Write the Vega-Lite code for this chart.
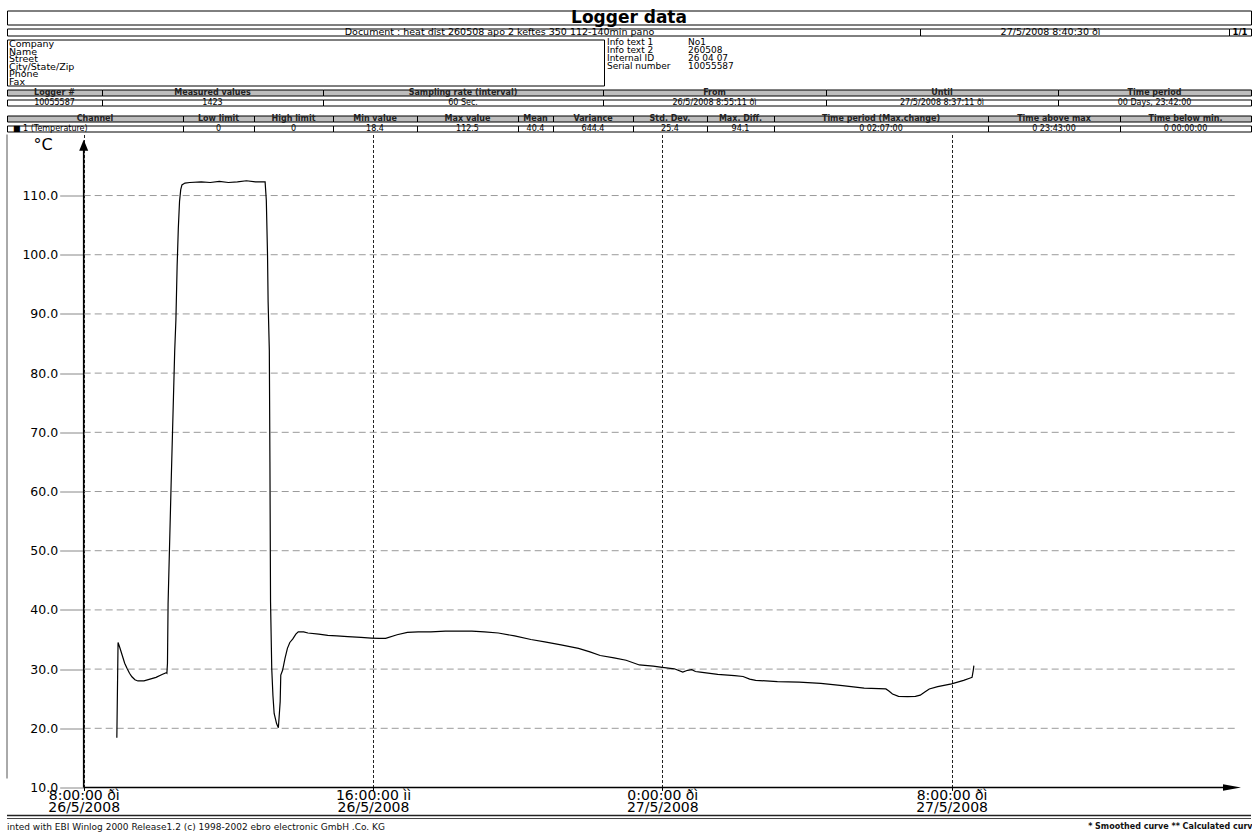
{
  "$schema": "https://vega.github.io/schema/vega-lite/v6.json",
  "background": "white",
  "padding": {"left": 6, "top": 7.5, "right": 2, "bottom": 0},
  "config": {
    "font": "DejaVu Sans",
    "text": {"font": "DejaVu Sans", "color": "black"},
    "axis": {"labelFont": "DejaVu Sans", "titleFont": "DejaVu Sans"},
    "view": {"stroke": "black", "strokeWidth": 1},
    "concat": {"spacing": 0}
  },
  "spacing": 0,
  "vconcat": [
    {
      "width": 1244, "height": 14, "view": {"stroke": "black"},
      "data": {"values": [{"t": "Logger data"}]},
      "mark": {"type": "text", "fontSize": 17, "fontWeight": "bold"},
      "encoding": {"text": {"field": "t"}}
    },
    {
      "spacing": 0, "bounds": "flush",
      "hconcat": [
        {"width": 913, "height": 7, "view": {"stroke": "black"}, "data": {"values": [{"t": "Document : heat dist 260508 apo 2 keftes 350 112-140min pano"}]}, "mark": {"type": "text", "fontSize": 9.5, "dx": 36}, "encoding": {"text": {"field": "t"}}},
        {"width": 309, "height": 7, "view": {"stroke": "black"}, "data": {"values": [{"t": "27/5/2008 8:40:30 ðì"}]}, "mark": {"type": "text", "fontSize": 9.5, "dx": -24}, "encoding": {"text": {"field": "t"}}},
        {"width": 22, "height": 7, "view": {"stroke": "black"}, "data": {"values": [{"t": "1/1"}]}, "mark": {"type": "text", "fontSize": 8.5, "fontWeight": "bold"}, "encoding": {"text": {"field": "t"}}}
      ]
    },
    {
      "spacing": 0, "bounds": "flush",
      "hconcat": [
        {
          "width": 597, "height": 46, "view": {"stroke": "black"},
          "data": {"values": [{"c": "a", "r": 1, "t": "Company"}, {"c": "a", "r": 2, "t": "Name"}, {"c": "a", "r": 3, "t": "Street"}, {"c": "a", "r": 4, "t": "City/State/Zip"}, {"c": "a", "r": 5, "t": "Phone"}, {"c": "a", "r": 6, "t": "Fax"}]},
          "mark": {"type": "text", "align": "left", "fontSize": 9.5, "dx": 2},
          "encoding": {
            "x": {"field": "c", "type": "nominal", "axis": null, "scale": {"type": "point", "padding": 0, "align": 0}},
            "y": {"field": "r", "type": "ordinal", "axis": null, "scale": {"type": "point", "padding": 0.575, "align": 0.581}},
            "text": {"field": "t"}
          }
        },
        {
          "width": 81, "height": 46, "view": {"stroke": null},
          "data": {"values": [{"c": "a", "r": 1, "t": "Info text 1"}, {"c": "a", "r": 2, "t": "Info text 2"}, {"c": "a", "r": 3, "t": "Internal ID"}, {"c": "a", "r": 4, "t": "Serial number"}]},
          "mark": {"type": "text", "align": "left", "fontSize": 9, "dx": 3},
          "encoding": {
            "x": {"field": "c", "type": "nominal", "axis": null, "scale": {"type": "point", "padding": 0, "align": 0}},
            "y": {"field": "r", "type": "ordinal", "axis": null, "scale": {"type": "point", "domain": [1, 2, 3, 4, 5, 6], "padding": 0.487, "align": 0.4}},
            "text": {"field": "t"}
          }
        },
        {
          "width": 566, "height": 46, "view": {"stroke": null},
          "data": {"values": [{"c": "a", "r": 1, "t": "No1"}, {"c": "a", "r": 2, "t": "260508"}, {"c": "a", "r": 3, "t": "26 04 07"}, {"c": "a", "r": 4, "t": "10055587"}]},
          "mark": {"type": "text", "align": "left", "fontSize": 9, "dx": 3},
          "encoding": {
            "x": {"field": "c", "type": "nominal", "axis": null, "scale": {"type": "point", "padding": 0, "align": 0}},
            "y": {"field": "r", "type": "ordinal", "axis": null, "scale": {"type": "point", "domain": [1, 2, 3, 4, 5, 6], "padding": 0.487, "align": 0.4}},
            "text": {"field": "t"}
          }
        }
      ]
    },
    {
      "spacing": 0, "bounds": "flush",
      "hconcat": [
        {"width": 95, "height": 6, "view": {"fill": "#bdbdbd", "stroke": "black"}, "data": {"values": [{"t": "Logger #"}]}, "mark": {"type": "text", "fontSize": 8, "fontWeight": "bold", "color": "#222"}, "encoding": {"text": {"field": "t"}}},
        {"width": 221, "height": 6, "view": {"fill": "#bdbdbd", "stroke": "black"}, "data": {"values": [{"t": "Measured values"}]}, "mark": {"type": "text", "fontSize": 8, "fontWeight": "bold", "color": "#222"}, "encoding": {"text": {"field": "t"}}},
        {"width": 280, "height": 6, "view": {"fill": "#bdbdbd", "stroke": "black"}, "data": {"values": [{"t": "Sampling rate (interval)"}]}, "mark": {"type": "text", "fontSize": 8, "fontWeight": "bold", "color": "#222"}, "encoding": {"text": {"field": "t"}}},
        {"width": 223, "height": 6, "view": {"fill": "#bdbdbd", "stroke": "black"}, "data": {"values": [{"t": "From"}]}, "mark": {"type": "text", "fontSize": 8, "fontWeight": "bold", "color": "#222"}, "encoding": {"text": {"field": "t"}}},
        {"width": 232, "height": 6, "view": {"fill": "#bdbdbd", "stroke": "black"}, "data": {"values": [{"t": "Until"}]}, "mark": {"type": "text", "fontSize": 8, "fontWeight": "bold", "color": "#222"}, "encoding": {"text": {"field": "t"}}},
        {"width": 193, "height": 6, "view": {"fill": "#bdbdbd", "stroke": "black"}, "data": {"values": [{"t": "Time period"}]}, "mark": {"type": "text", "fontSize": 8, "fontWeight": "bold", "color": "#222"}, "encoding": {"text": {"field": "t"}}}
      ]
    },
    {
      "spacing": 0, "bounds": "flush",
      "hconcat": [
        {"width": 95, "height": 6, "view": {"stroke": "black"}, "data": {"values": [{"t": "10055587"}]}, "mark": {"type": "text", "fontSize": 8}, "encoding": {"text": {"field": "t"}}},
        {"width": 221, "height": 6, "view": {"stroke": "black"}, "data": {"values": [{"t": "1423"}]}, "mark": {"type": "text", "fontSize": 8}, "encoding": {"text": {"field": "t"}}},
        {"width": 280, "height": 6, "view": {"stroke": "black"}, "data": {"values": [{"t": "60 Sec."}]}, "mark": {"type": "text", "fontSize": 8}, "encoding": {"text": {"field": "t"}}},
        {"width": 223, "height": 6, "view": {"stroke": "black"}, "data": {"values": [{"t": "26/5/2008 8:55:11 ðì"}]}, "mark": {"type": "text", "fontSize": 8}, "encoding": {"text": {"field": "t"}}},
        {"width": 232, "height": 6, "view": {"stroke": "black"}, "data": {"values": [{"t": "27/5/2008 8:37:11 ðì"}]}, "mark": {"type": "text", "fontSize": 8}, "encoding": {"text": {"field": "t"}}},
        {"width": 193, "height": 6, "view": {"stroke": "black"}, "data": {"values": [{"t": "00 Days, 23:42:00"}]}, "mark": {"type": "text", "fontSize": 8}, "encoding": {"text": {"field": "t"}}}
      ]
    },
    {
      "width": 1244, "height": 6, "view": {"stroke": null},
      "data": {"values": [{"t": ""}]},
      "mark": {"type": "text", "fontSize": 1},
      "encoding": {"text": {"field": "t"}}
    },
    {
      "spacing": 0, "bounds": "flush",
      "hconcat": [
        {"width": 176, "height": 6, "view": {"fill": "#bdbdbd", "stroke": "black"}, "data": {"values": [{"t": "Channel"}]}, "mark": {"type": "text", "fontSize": 8, "fontWeight": "bold", "color": "#222"}, "encoding": {"text": {"field": "t"}}},
        {"width": 71, "height": 6, "view": {"fill": "#bdbdbd", "stroke": "black"}, "data": {"values": [{"t": "Low limit"}]}, "mark": {"type": "text", "fontSize": 8, "fontWeight": "bold", "color": "#222"}, "encoding": {"text": {"field": "t"}}},
        {"width": 79, "height": 6, "view": {"fill": "#bdbdbd", "stroke": "black"}, "data": {"values": [{"t": "High limit"}]}, "mark": {"type": "text", "fontSize": 8, "fontWeight": "bold", "color": "#222"}, "encoding": {"text": {"field": "t"}}},
        {"width": 84, "height": 6, "view": {"fill": "#bdbdbd", "stroke": "black"}, "data": {"values": [{"t": "Min value"}]}, "mark": {"type": "text", "fontSize": 8, "fontWeight": "bold", "color": "#222"}, "encoding": {"text": {"field": "t"}}},
        {"width": 101, "height": 6, "view": {"fill": "#bdbdbd", "stroke": "black"}, "data": {"values": [{"t": "Max value"}]}, "mark": {"type": "text", "fontSize": 8, "fontWeight": "bold", "color": "#222"}, "encoding": {"text": {"field": "t"}}},
        {"width": 35, "height": 6, "view": {"fill": "#bdbdbd", "stroke": "black"}, "data": {"values": [{"t": "Mean"}]}, "mark": {"type": "text", "fontSize": 8, "fontWeight": "bold", "color": "#222"}, "encoding": {"text": {"field": "t"}}},
        {"width": 80, "height": 6, "view": {"fill": "#bdbdbd", "stroke": "black"}, "data": {"values": [{"t": "Variance"}]}, "mark": {"type": "text", "fontSize": 8, "fontWeight": "bold", "color": "#222"}, "encoding": {"text": {"field": "t"}}},
        {"width": 74, "height": 6, "view": {"fill": "#bdbdbd", "stroke": "black"}, "data": {"values": [{"t": "Std. Dev."}]}, "mark": {"type": "text", "fontSize": 8, "fontWeight": "bold", "color": "#222"}, "encoding": {"text": {"field": "t"}}},
        {"width": 67, "height": 6, "view": {"fill": "#bdbdbd", "stroke": "black"}, "data": {"values": [{"t": "Max. Diff."}]}, "mark": {"type": "text", "fontSize": 8, "fontWeight": "bold", "color": "#222"}, "encoding": {"text": {"field": "t"}}},
        {"width": 214, "height": 6, "view": {"fill": "#bdbdbd", "stroke": "black"}, "data": {"values": [{"t": "Time period (Max.change)"}]}, "mark": {"type": "text", "fontSize": 8, "fontWeight": "bold", "color": "#222"}, "encoding": {"text": {"field": "t"}}},
        {"width": 132, "height": 6, "view": {"fill": "#bdbdbd", "stroke": "black"}, "data": {"values": [{"t": "Time above max"}]}, "mark": {"type": "text", "fontSize": 8, "fontWeight": "bold", "color": "#222"}, "encoding": {"text": {"field": "t"}}},
        {"width": 131, "height": 6, "view": {"fill": "#bdbdbd", "stroke": "black"}, "data": {"values": [{"t": "Time below min."}]}, "mark": {"type": "text", "fontSize": 8, "fontWeight": "bold", "color": "#222"}, "encoding": {"text": {"field": "t"}}}
      ]
    },
    {
      "spacing": 0, "bounds": "flush",
      "hconcat": [
        {"width": 176, "height": 6, "view": {"stroke": "black"}, "data": {"values": [{"c": "a", "t": "■   1 (Temperature)"}]}, "mark": {"type": "text", "fontSize": 8, "align": "left", "dx": 6}, "encoding": {"x": {"field": "c", "type": "nominal", "axis": null, "scale": {"type": "point", "padding": 0, "align": 0}}, "text": {"field": "t"}}},
        {"width": 71, "height": 6, "view": {"stroke": "black"}, "data": {"values": [{"t": "0"}]}, "mark": {"type": "text", "fontSize": 8}, "encoding": {"text": {"field": "t"}}},
        {"width": 79, "height": 6, "view": {"stroke": "black"}, "data": {"values": [{"t": "0"}]}, "mark": {"type": "text", "fontSize": 8}, "encoding": {"text": {"field": "t"}}},
        {"width": 84, "height": 6, "view": {"stroke": "black"}, "data": {"values": [{"t": "18.4"}]}, "mark": {"type": "text", "fontSize": 8}, "encoding": {"text": {"field": "t"}}},
        {"width": 101, "height": 6, "view": {"stroke": "black"}, "data": {"values": [{"t": "112.5"}]}, "mark": {"type": "text", "fontSize": 8}, "encoding": {"text": {"field": "t"}}},
        {"width": 35, "height": 6, "view": {"stroke": "black"}, "data": {"values": [{"t": "40.4"}]}, "mark": {"type": "text", "fontSize": 8}, "encoding": {"text": {"field": "t"}}},
        {"width": 80, "height": 6, "view": {"stroke": "black"}, "data": {"values": [{"t": "644.4"}]}, "mark": {"type": "text", "fontSize": 8}, "encoding": {"text": {"field": "t"}}},
        {"width": 74, "height": 6, "view": {"stroke": "black"}, "data": {"values": [{"t": "25.4"}]}, "mark": {"type": "text", "fontSize": 8}, "encoding": {"text": {"field": "t"}}},
        {"width": 67, "height": 6, "view": {"stroke": "black"}, "data": {"values": [{"t": "94.1"}]}, "mark": {"type": "text", "fontSize": 8}, "encoding": {"text": {"field": "t"}}},
        {"width": 214, "height": 6, "view": {"stroke": "black"}, "data": {"values": [{"t": "0 02:07:00"}]}, "mark": {"type": "text", "fontSize": 8}, "encoding": {"text": {"field": "t"}}},
        {"width": 132, "height": 6, "view": {"stroke": "black"}, "data": {"values": [{"t": "0 23:43:00"}]}, "mark": {"type": "text", "fontSize": 8}, "encoding": {"text": {"field": "t"}}},
        {"width": 131, "height": 6, "view": {"stroke": "black"}, "data": {"values": [{"t": "0 00:00:00"}]}, "mark": {"type": "text", "fontSize": 8}, "encoding": {"text": {"field": "t"}}}
      ]
    },
    {
      "width": 1244, "height": 653,
      "view": {"stroke": null},
      "layer": [
        {
          "data": {"values": [{"g": 20}, {"g": 30}, {"g": 40}, {"g": 50}, {"g": 60}, {"g": 70}, {"g": 80}, {"g": 90}, {"g": 100}, {"g": 110}]},
          "mark": {"type": "rule", "color": "#9a9a9a", "strokeWidth": 1, "strokeDash": [7, 4]},
          "encoding": {
            "x": {"datum": {"year": 2008, "month": 5, "date": 26, "hours": 8}, "type": "temporal"},
            "x2": {"datum": {"year": 2008, "month": 5, "date": 27, "hours": 15, "minutes": 55}},
            "y": {"field": "g", "type": "quantitative"}
          }
        },
        {
          "data": {"values": [{}]},
          "mark": {"type": "rule", "color": "#555", "strokeWidth": 1},
          "encoding": {
            "x": {"datum": {"year": 2008, "month": 5, "date": 26, "hours": 5, "minutes": 52, "seconds": 44}, "type": "temporal"},
            "y": {"datum": 120.31, "type": "quantitative"},
            "y2": {"datum": 11.52}
          }
        },
        {
          "data": {"values": [{}]},
          "mark": {"type": "rule", "color": "black", "strokeWidth": 1.6},
          "encoding": {
            "x": {"datum": {"year": 2008, "month": 5, "date": 26, "hours": 8}, "type": "temporal"},
            "y": {"datum": 10, "type": "quantitative"},
            "y2": {"datum": 118.5}
          }
        },
        {
          "data": {"values": [{}]},
          "mark": {"type": "point", "shape": "M0,-1L0.82,1L-0.82,1Z", "size": 121, "filled": true, "color": "black", "opacity": 1},
          "encoding": {
            "x": {"datum": {"year": 2008, "month": 5, "date": 26, "hours": 8}, "type": "temporal"},
            "y": {"datum": 118.5, "type": "quantitative"}
          }
        },
        {
          "data": {"values": [{}]},
          "mark": {"type": "rule", "color": "black", "strokeWidth": 1.6},
          "encoding": {
            "x": {"datum": {"year": 2008, "month": 5, "date": 26, "hours": 8}, "type": "temporal"},
            "x2": {"datum": {"year": 2008, "month": 5, "date": 27, "hours": 15, "minutes": 45, "seconds": 18}},
            "y": {"datum": 10, "type": "quantitative"}
          }
        },
        {
          "data": {"values": [{}]},
          "mark": {"type": "point", "shape": "M1,0L-1,-0.35L-1,0.35Z", "size": 324, "filled": true, "color": "black", "opacity": 1},
          "encoding": {
            "x": {"datum": {"year": 2008, "month": 5, "date": 27, "hours": 15, "minutes": 45, "seconds": 18}, "type": "temporal"},
            "y": {"datum": 10, "type": "quantitative"}
          }
        },
        {
          "data": {"values": [
            {"t": "2008-05-26T08:55:00", "v": 18.4},
            {"t": "2008-05-26T08:57:00", "v": 34.5},
            {"t": "2008-05-26T09:00:00", "v": 33.6},
            {"t": "2008-05-26T09:04:00", "v": 32.3},
            {"t": "2008-05-26T09:08:00", "v": 31.0},
            {"t": "2008-05-26T09:12:00", "v": 30.1},
            {"t": "2008-05-26T09:16:00", "v": 29.3},
            {"t": "2008-05-26T09:20:00", "v": 28.7},
            {"t": "2008-05-26T09:25:00", "v": 28.2},
            {"t": "2008-05-26T09:30:00", "v": 28.0},
            {"t": "2008-05-26T09:40:00", "v": 28.0},
            {"t": "2008-05-26T09:50:00", "v": 28.3},
            {"t": "2008-05-26T10:00:00", "v": 28.6},
            {"t": "2008-05-26T10:10:00", "v": 29.1},
            {"t": "2008-05-26T10:17:00", "v": 29.4},
            {"t": "2008-05-26T10:18:00", "v": 29.3},
            {"t": "2008-05-26T10:19:00", "v": 31.0},
            {"t": "2008-05-26T10:20:00", "v": 41.0},
            {"t": "2008-05-26T10:25:00", "v": 61.0},
            {"t": "2008-05-26T10:31:00", "v": 83.8},
            {"t": "2008-05-26T10:33:00", "v": 89.0},
            {"t": "2008-05-26T10:35:00", "v": 98.0},
            {"t": "2008-05-26T10:37:00", "v": 104.5},
            {"t": "2008-05-26T10:39:00", "v": 109.0},
            {"t": "2008-05-26T10:41:00", "v": 111.0},
            {"t": "2008-05-26T10:43:00", "v": 111.8},
            {"t": "2008-05-26T10:48:00", "v": 112.1},
            {"t": "2008-05-26T10:56:00", "v": 112.2},
            {"t": "2008-05-26T11:15:00", "v": 112.3},
            {"t": "2008-05-26T11:30:00", "v": 112.2},
            {"t": "2008-05-26T11:45:00", "v": 112.4},
            {"t": "2008-05-26T12:00:00", "v": 112.2},
            {"t": "2008-05-26T12:15:00", "v": 112.3},
            {"t": "2008-05-26T12:30:00", "v": 112.5},
            {"t": "2008-05-26T12:45:00", "v": 112.3},
            {"t": "2008-05-26T13:01:00", "v": 112.3},
            {"t": "2008-05-26T13:03:00", "v": 109.2},
            {"t": "2008-05-26T13:05:00", "v": 100.0},
            {"t": "2008-05-26T13:06:00", "v": 92.0},
            {"t": "2008-05-26T13:08:00", "v": 83.8},
            {"t": "2008-05-26T13:09:00", "v": 65.0},
            {"t": "2008-05-26T13:10:00", "v": 41.4},
            {"t": "2008-05-26T13:12:00", "v": 30.1},
            {"t": "2008-05-26T13:14:00", "v": 25.5},
            {"t": "2008-05-26T13:16:00", "v": 22.5},
            {"t": "2008-05-26T13:20:00", "v": 20.8},
            {"t": "2008-05-26T13:23:00", "v": 20.1},
            {"t": "2008-05-26T13:25:00", "v": 23.0},
            {"t": "2008-05-26T13:26:00", "v": 24.5},
            {"t": "2008-05-26T13:27:00", "v": 29.0},
            {"t": "2008-05-26T13:30:00", "v": 29.8},
            {"t": "2008-05-26T13:34:00", "v": 31.8},
            {"t": "2008-05-26T13:38:00", "v": 33.5},
            {"t": "2008-05-26T13:42:00", "v": 34.5},
            {"t": "2008-05-26T13:47:00", "v": 35.1},
            {"t": "2008-05-26T13:52:00", "v": 35.9},
            {"t": "2008-05-26T13:56:00", "v": 36.3},
            {"t": "2008-05-26T14:05:00", "v": 36.3},
            {"t": "2008-05-26T14:12:00", "v": 36.1},
            {"t": "2008-05-26T14:30:00", "v": 35.9},
            {"t": "2008-05-26T14:45:00", "v": 35.7},
            {"t": "2008-05-26T15:00:00", "v": 35.6},
            {"t": "2008-05-26T15:18:00", "v": 35.5},
            {"t": "2008-05-26T15:40:00", "v": 35.35},
            {"t": "2008-05-26T15:57:00", "v": 35.25},
            {"t": "2008-05-26T16:10:00", "v": 35.2},
            {"t": "2008-05-26T16:21:00", "v": 35.2},
            {"t": "2008-05-26T16:40:00", "v": 35.8},
            {"t": "2008-05-26T16:57:00", "v": 36.2},
            {"t": "2008-05-26T17:15:00", "v": 36.3},
            {"t": "2008-05-26T17:36:00", "v": 36.3},
            {"t": "2008-05-26T18:00:00", "v": 36.4},
            {"t": "2008-05-26T18:16:00", "v": 36.4},
            {"t": "2008-05-26T18:44:00", "v": 36.4},
            {"t": "2008-05-26T19:05:00", "v": 36.3},
            {"t": "2008-05-26T19:28:00", "v": 36.1},
            {"t": "2008-05-26T19:55:00", "v": 35.6},
            {"t": "2008-05-26T20:22:00", "v": 35.0},
            {"t": "2008-05-26T20:45:00", "v": 34.6},
            {"t": "2008-05-26T21:12:00", "v": 34.1},
            {"t": "2008-05-26T21:41:00", "v": 33.5},
            {"t": "2008-05-26T22:00:00", "v": 32.9},
            {"t": "2008-05-26T22:17:00", "v": 32.3},
            {"t": "2008-05-26T22:40:00", "v": 31.9},
            {"t": "2008-05-26T23:00:00", "v": 31.5},
            {"t": "2008-05-26T23:22:00", "v": 30.7},
            {"t": "2008-05-26T23:45:00", "v": 30.5},
            {"t": "2008-05-27T00:00:00", "v": 30.3},
            {"t": "2008-05-27T00:20:00", "v": 30.05},
            {"t": "2008-05-27T00:34:00", "v": 29.5},
            {"t": "2008-05-27T00:42:00", "v": 29.8},
            {"t": "2008-05-27T00:49:00", "v": 29.9},
            {"t": "2008-05-27T00:55:00", "v": 29.6},
            {"t": "2008-05-27T01:03:00", "v": 29.5},
            {"t": "2008-05-27T01:32:00", "v": 29.1},
            {"t": "2008-05-27T02:00:00", "v": 28.9},
            {"t": "2008-05-27T02:14:00", "v": 28.75},
            {"t": "2008-05-27T02:25:00", "v": 28.3},
            {"t": "2008-05-27T02:35:00", "v": 28.1},
            {"t": "2008-05-27T03:11:00", "v": 27.9},
            {"t": "2008-05-27T03:47:00", "v": 27.8},
            {"t": "2008-05-27T04:23:00", "v": 27.6},
            {"t": "2008-05-27T04:59:00", "v": 27.2},
            {"t": "2008-05-27T05:35:00", "v": 26.8},
            {"t": "2008-05-27T06:11:00", "v": 26.65},
            {"t": "2008-05-27T06:16:00", "v": 26.3},
            {"t": "2008-05-27T06:22:00", "v": 25.8},
            {"t": "2008-05-27T06:32:00", "v": 25.4},
            {"t": "2008-05-27T06:47:00", "v": 25.35},
            {"t": "2008-05-27T07:00:00", "v": 25.4},
            {"t": "2008-05-27T07:08:00", "v": 25.6},
            {"t": "2008-05-27T07:15:00", "v": 26.1},
            {"t": "2008-05-27T07:23:00", "v": 26.65},
            {"t": "2008-05-27T07:37:00", "v": 27.05},
            {"t": "2008-05-27T08:00:00", "v": 27.5},
            {"t": "2008-05-27T08:20:00", "v": 28.1},
            {"t": "2008-05-27T08:31:00", "v": 28.5},
            {"t": "2008-05-27T08:34:00", "v": 28.6},
            {"t": "2008-05-27T08:36:00", "v": 29.8},
            {"t": "2008-05-27T08:37:00", "v": 30.6}
          ]},
          "mark": {"type": "line", "color": "black", "strokeWidth": 1.2},
          "encoding": {
            "x": {
              "field": "t", "type": "temporal", "title": null,
              "scale": {"domain": [{"year": 2008, "month": 5, "date": 26, "hours": 5, "minutes": 52, "seconds": 44}, {"year": 2008, "month": 5, "date": 27, "hours": 16, "minutes": 16, "seconds": 50}]},
              "axis": {
                "title": null, "domain": false, "grid": true, "gridDash": [3, 2], "gridColor": "#222", "gridWidth": 1, "gridOpacity": 1,
                "ticks": true, "tickSize": 3, "tickColor": "black",
                "values": [{"year": 2008, "month": 5, "date": 26, "hours": 8}, {"year": 2008, "month": 5, "date": 26, "hours": 16}, {"year": 2008, "month": 5, "date": 27, "hours": 0}, {"year": 2008, "month": 5, "date": 27, "hours": 8}],
                "labelExpr": "[timeFormat(datum.value, '%-H:%M:%S') + (hours(datum.value) < 12 ? ' ðì' : ' ìì'), timeFormat(datum.value, '%-d/%-m/%Y')]",
                "labelFontSize": 14, "labelLineHeight": 11.5, "labelPadding": -2, "labelColor": "black", "labelFlush": false, "labelOverlap": false
              }
            },
            "y": {
              "field": "v", "type": "quantitative", "title": "°C",
              "scale": {"domain": [10, 120.31], "nice": false, "zero": false},
              "axis": {
                "title": "°C", "titleAngle": 0, "titleX": -41, "titleY": 10, "titleAlign": "center", "titleBaseline": "middle", "titleFontSize": 16, "titleFontWeight": "normal", "titleColor": "black",
                "orient": "left", "offset": -76.7, "domain": false, "grid": false,
                "values": [10, 20, 30, 40, 50, 60, 70, 80, 90, 100, 110], "format": ".1f",
                "tickSize": 24, "tickColor": "#888", "tickWidth": 1, "labelPadding": 2, "labelFontSize": 12.5, "labelColor": "black"
              }
            }
          }
        },
        {
          "data": {"values": [{}]},
          "mark": {"type": "rule", "color": "#222", "strokeWidth": 1.6},
          "encoding": {
            "x": {"datum": {"year": 2008, "month": 5, "date": 26, "hours": 5, "minutes": 52, "seconds": 44}, "type": "temporal"},
            "x2": {"datum": {"year": 2008, "month": 5, "date": 27, "hours": 16, "minutes": 16, "seconds": 50}},
            "y": {"datum": 5.27, "type": "quantitative"}
          }
        },
        {
          "data": {"values": [{}]},
          "mark": {"type": "rule", "color": "#444", "strokeWidth": 1},
          "encoding": {
            "x": {"datum": {"year": 2008, "month": 5, "date": 26, "hours": 5, "minutes": 52, "seconds": 44}, "type": "temporal"},
            "x2": {"datum": {"year": 2008, "month": 5, "date": 27, "hours": 16, "minutes": 16, "seconds": 50}},
            "y": {"datum": 4.76, "type": "quantitative"}
          }
        },
        {
          "data": {"values": [{"t": "inted with EBI Winlog 2000 Release1.2 (c) 1998-2002 ebro electronic GmbH .Co. KG"}]},
          "mark": {"type": "text", "align": "left", "baseline": "middle", "fontSize": 9, "color": "#111"},
          "encoding": {
            "x": {"datum": {"year": 2008, "month": 5, "date": 26, "hours": 5, "minutes": 52, "seconds": 44}, "type": "temporal"},
            "y": {"datum": 3.41, "type": "quantitative"},
            "text": {"field": "t"}
          }
        },
        {
          "data": {"values": [{"t": "* Smoothed curve   ** Calculated curve"}]},
          "mark": {"type": "text", "align": "right", "baseline": "middle", "fontSize": 8, "fontWeight": "bold", "color": "#111", "dx": 7},
          "encoding": {
            "x": {"datum": {"year": 2008, "month": 5, "date": 27, "hours": 16, "minutes": 16, "seconds": 50}, "type": "temporal"},
            "y": {"datum": 3.41, "type": "quantitative"},
            "text": {"field": "t"}
          }
        }
      ]
    }
  ]
}
